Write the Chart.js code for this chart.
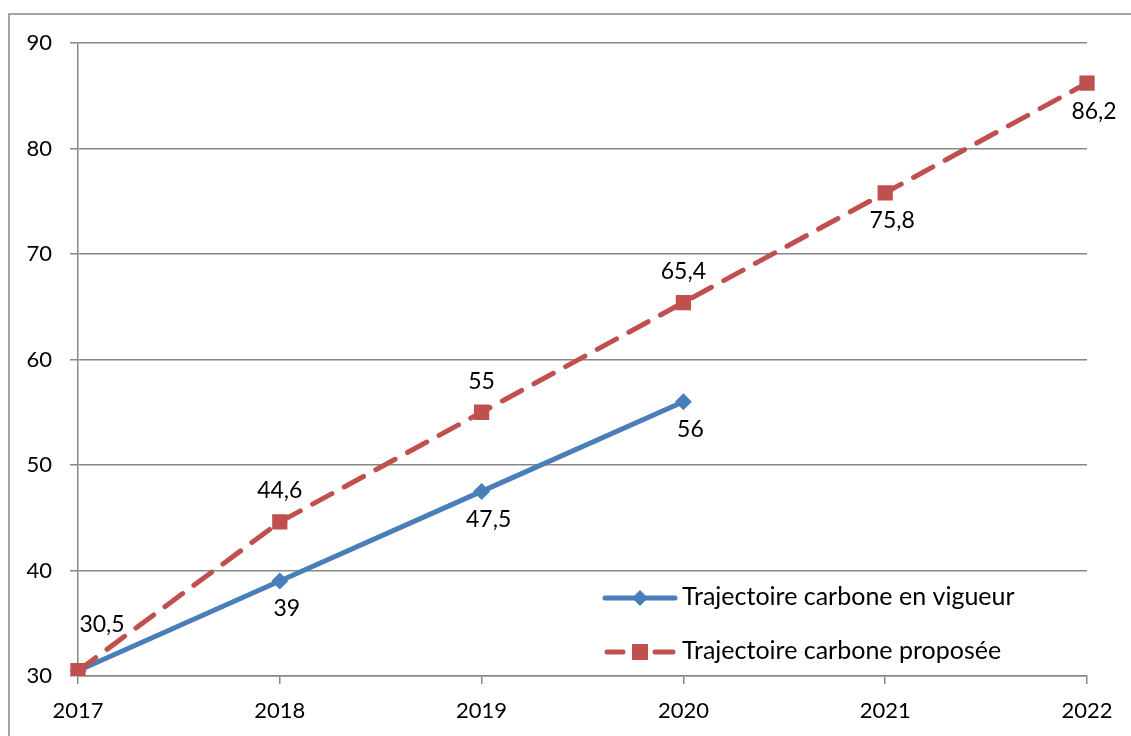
<!DOCTYPE html>
<html><head><meta charset="utf-8">
<script src="https://cdn.jsdelivr.net/npm/chart.js@4.4.0/dist/chart.umd.min.js"></script>
<style>html,body{margin:0;padding:0;background:#fff;}#wrap{width:1131px;height:736px;position:relative;}</style>
</head><body><div id="wrap"><canvas id="c" width="1131" height="736"></canvas></div>
<script>
const years = ['2017','2018','2019','2020','2021','2022'];
const enVigueur = [30.5, 39, 47.5, 56, null, null];
const proposee = [30.5, 44.6, 55, 65.4, 75.8, 86.2];
const seriesNames = ['Trajectoire carbone en vigueur', 'Trajectoire carbone proposée'];
const yTicks = [30, 40, 50, 60, 70, 80, 90];
// label placement per point: 'none' | 'above' | 'below'
const vigueurLabelPos = ['none', 'below', 'below', 'below', 'none', 'none'];
const proposeeLabelPos = ['aboveRight', 'above', 'above', 'above', 'below', 'below'];

const FONT = 'Lato, "Open Sans", sans-serif';
const BLUE = '#4a7ebb';
const RED = '#c0504d';
const GRID = '#878787';

const fmt = v => String(v).replace('.', ',');

const framePlugin = {
  id: 'frame',
  beforeDraw(chart) {
    const ctx = chart.ctx;
    ctx.save();
    ctx.fillStyle = '#fff';
    ctx.fillRect(0, 0, chart.width, chart.height);
    ctx.strokeStyle = GRID;
    ctx.lineWidth = 1.5;
    ctx.beginPath();
    ctx.moveTo(9, 736);
    ctx.lineTo(9, 14);
    ctx.lineTo(1131, 14);
    ctx.stroke();
    ctx.restore();
  }
};

const labelPlugin = {
  id: 'pointLabels',
  afterDatasetsDraw(chart) {
    const ctx = chart.ctx;
    const placements = [vigueurLabelPos, proposeeLabelPos];
    ctx.save();
    ctx.font = '23px ' + FONT;
    ctx.fillStyle = '#000';
    ctx.textAlign = 'center';
    ctx.textBaseline = 'middle';
    chart.data.datasets.forEach((ds, di) => {
      const meta = chart.getDatasetMeta(di);
      meta.data.forEach((pt, i) => {
        const v = ds.data[i];
        const pos = placements[di][i];
        if (v == null || pos === 'none') return;
        let x = pt.x, y = pt.y;
        if (pos === 'below') { x += 7; y += 28; }
        else if (pos === 'above') { y -= 31; }
        else if (pos === 'aboveRight') { x += 24; y -= 46; }
        ctx.fillText(fmt(v), x, y);
      });
    });
    ctx.restore();
  }
};

const legendPlugin = {
  id: 'customLegend',
  afterDraw(chart) {
    const ctx = chart.ctx;
    const x0 = 605, x1 = 675, xm = 640;
    const rows = [598, 652];
    ctx.save();
    ctx.lineCap = 'round';
    // blue
    ctx.strokeStyle = BLUE; ctx.lineWidth = 5;
    ctx.beginPath(); ctx.moveTo(x0, rows[0]); ctx.lineTo(x1, rows[0]); ctx.stroke();
    ctx.fillStyle = BLUE;
    ctx.beginPath();
    ctx.moveTo(xm, rows[0] - 8); ctx.lineTo(xm + 8, rows[0]); ctx.lineTo(xm, rows[0] + 8); ctx.lineTo(xm - 8, rows[0]);
    ctx.closePath(); ctx.fill();
    // red
    ctx.strokeStyle = RED;
    ctx.beginPath(); ctx.moveTo(x0 + 2, rows[1]); ctx.lineTo(x0 + 18, rows[1]); ctx.stroke();
    ctx.beginPath(); ctx.moveTo(x1 - 20, rows[1]); ctx.lineTo(x1 - 2, rows[1]); ctx.stroke();
    ctx.fillStyle = RED;
    ctx.fillRect(xm - 8, rows[1] - 8, 16, 16);
    ctx.font = '25px ' + FONT;
    ctx.fillStyle = '#000';
    ctx.textAlign = 'left';
    ctx.textBaseline = 'middle';
    ctx.fillText(chart.data.datasets[0].label, 682, rows[0] - 1);
    ctx.fillText(chart.data.datasets[1].label, 682, rows[1] - 1);
    ctx.restore();
  }
};

new Chart(document.getElementById('c'), {
  type: 'line',
  data: {
    labels: years,
    datasets: [
      {
        label: seriesNames[0],
        data: enVigueur,
        borderColor: BLUE,
        backgroundColor: BLUE,
        borderWidth: 5,
        pointStyle: 'rectRot',
        pointRadius: 8.5,
        pointHoverRadius: 8.5,
        pointBorderWidth: 0,
        tension: 0,
        spanGaps: false,
        order: 2
      },
      {
        label: seriesNames[1],
        data: proposee,
        borderColor: RED,
        backgroundColor: RED,
        borderWidth: 5,
        borderDash: [22, 14],
        borderCapStyle: 'round',
        pointStyle: 'rect',
        pointRadius: 10.8,
        pointHoverRadius: 10.8,
        pointBorderWidth: 0,
        tension: 0,
        order: 1
      }
    ]
  },
  options: {
    responsive: false,
    animation: false,
    devicePixelRatio: 1,
    layout: { padding: { left: 0, right: 44, top: 43, bottom: 0 } },
    plugins: { legend: { display: false }, tooltip: { enabled: false }, title: { display: false } },
    scales: {
      x: {
        type: 'category',
        offset: false,
        grid: { drawOnChartArea: false, drawTicks: true, tickLength: 8, color: GRID, lineWidth: 1.5 },
        border: { color: GRID, width: 1.5 },
        ticks: { color: '#000', font: { family: FONT, size: 22 }, padding: 14, maxRotation: 0, autoSkip: false },
        afterFit(s) { s.height = 60; }
      },
      y: {
        min: 30, max: 90,
        afterBuildTicks(s) { s.ticks = yTicks.map(v => ({ value: v })); },
        grid: { drawOnChartArea: true, drawTicks: true, tickLength: 8, color: GRID, lineWidth: 1.5 },
        border: { color: GRID, width: 1.5 },
        ticks: { color: '#000', font: { family: FONT, size: 22 }, padding: 18 },
        afterFit(s) { s.width = 78; }
      }
    }
  },
  plugins: [framePlugin, labelPlugin, legendPlugin]
});
</script></body></html>
